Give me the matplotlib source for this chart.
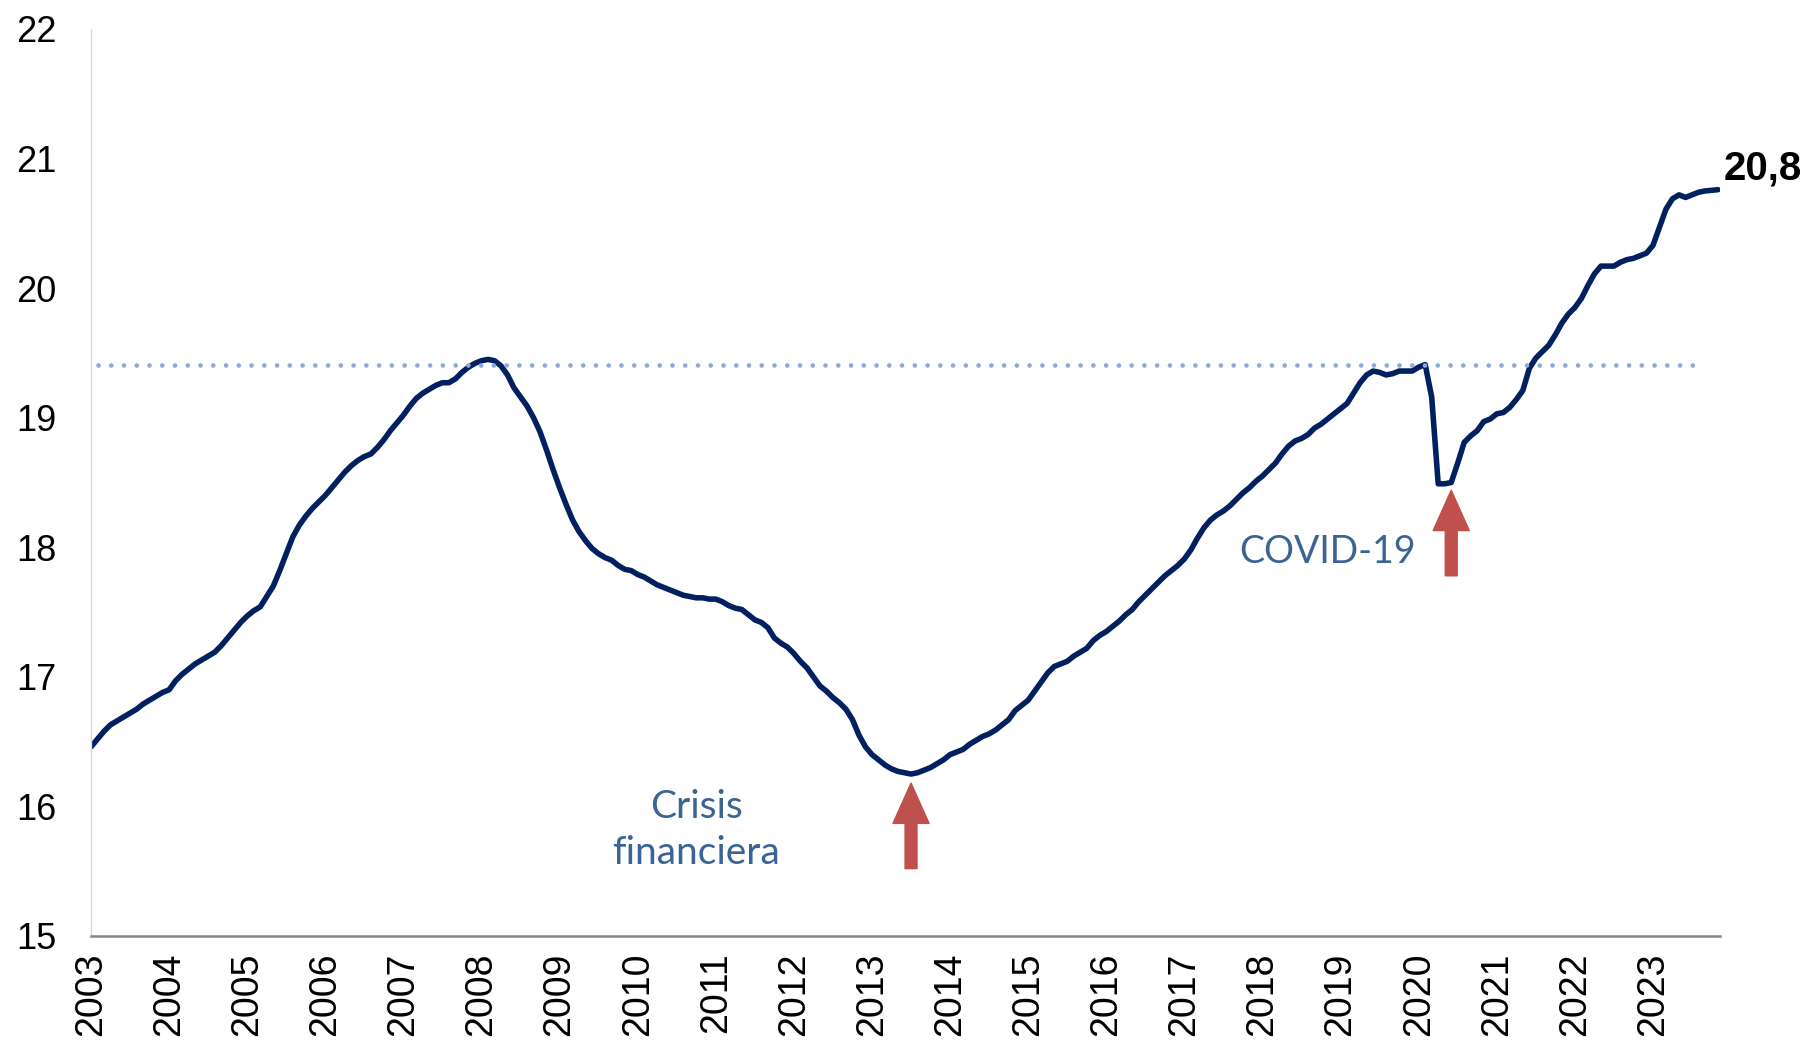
import matplotlib
matplotlib.use("Agg")
import matplotlib.pyplot as plt
import numpy as np

# afiliados (millones), serie mensual ene-2003 .. nov-2023
afiliados = [
    16.46, 16.52, 16.58, 16.63, 16.66, 16.69, 16.72, 16.75, 16.79, 16.82, 16.85, 16.88,  # 2003
    16.90, 16.97, 17.02, 17.06, 17.10, 17.13, 17.16, 17.19, 17.24, 17.30, 17.36, 17.42,  # 2004
    17.47, 17.51, 17.54, 17.62, 17.70, 17.82, 17.95, 18.08, 18.17, 18.24, 18.30, 18.35,  # 2005
    18.40, 18.46, 18.52, 18.58, 18.63, 18.67, 18.70, 18.72, 18.77, 18.83, 18.90, 18.96,  # 2006
    19.02, 19.09, 19.15, 19.19, 19.22, 19.25, 19.27, 19.27, 19.30, 19.35, 19.39, 19.42,  # 2007
    19.44, 19.45, 19.44, 19.40, 19.33, 19.23, 19.16, 19.09, 19.00, 18.89, 18.75, 18.60,  # 2008
    18.46, 18.33, 18.21, 18.12, 18.05, 17.99, 17.95, 17.92, 17.90, 17.86, 17.83, 17.82,  # 2009
    17.79, 17.77, 17.74, 17.71, 17.69, 17.67, 17.65, 17.63, 17.62, 17.61, 17.61, 17.60,  # 2010
    17.60, 17.58, 17.55, 17.53, 17.52, 17.48, 17.44, 17.42, 17.38, 17.30, 17.26, 17.23,  # 2011
    17.18, 17.12, 17.07, 17.00, 16.93, 16.89, 16.84, 16.80, 16.75, 16.67, 16.55, 16.46,  # 2012
    16.40, 16.36, 16.32, 16.29, 16.27, 16.26, 16.25, 16.26, 16.28, 16.30, 16.33, 16.36,  # 2013
    16.40, 16.42, 16.44, 16.48, 16.51, 16.54, 16.56, 16.59, 16.63, 16.67, 16.74, 16.78,  # 2014
    16.82, 16.89, 16.96, 17.03, 17.08, 17.10, 17.12, 17.16, 17.19, 17.22, 17.28, 17.32,  # 2015
    17.35, 17.39, 17.43, 17.48, 17.52, 17.58, 17.63, 17.68, 17.73, 17.78, 17.82, 17.86,  # 2016
    17.91, 17.98, 18.07, 18.15, 18.21, 18.25, 18.28, 18.32, 18.37, 18.42, 18.46, 18.51,  # 2017
    18.55, 18.60, 18.65, 18.72, 18.78, 18.82, 18.84, 18.87, 18.92, 18.95, 18.99, 19.03,  # 2018
    19.07, 19.11, 19.19, 19.27, 19.33, 19.36, 19.35, 19.33, 19.34, 19.36, 19.36, 19.36,  # 2019
    19.39, 19.41, 19.16, 18.49, 18.49, 18.50, 18.65, 18.81, 18.86, 18.90, 18.97, 18.99,  # 2020
    19.03, 19.04, 19.08, 19.14, 19.21, 19.38, 19.46, 19.51, 19.56, 19.64, 19.73, 19.80,  # 2021
    19.85, 19.92, 20.02, 20.11, 20.17, 20.17, 20.17, 20.20, 20.22, 20.23, 20.25, 20.27,  # 2022
    20.33, 20.47, 20.61, 20.69, 20.72, 20.70, 20.72, 20.74, 20.75, 20.755, 20.76,        # 2023
]
anios = [str(a) for a in range(2003, 2024)]
nivel_precrisis = 19.41
ultimo_txt = "20,8"

fig = plt.figure(figsize=(18.12, 10.46), dpi=100)
ax = fig.add_axes([91 / 1812, 1 - 936 / 1046, (1720 - 91) / 1812, (936 - 29) / 1046])

x = np.arange(len(afiliados))
ax.plot(x, afiliados, color="#002060", lw=4.0, solid_capstyle="round",
        solid_joinstyle="round", zorder=2)

# linea punteada del nivel previo
ax.plot([1, 248], [nivel_precrisis, nivel_precrisis], color="#8EA9DB", lw=3.4,
        linestyle=(0, (0.001, 2.7)), dash_capstyle="round", zorder=3)

ax.set_xlim(0, 250.3)
ax.set_ylim(15, 22)
ax.set_yticks(range(15, 23))
ax.set_yticklabels([str(v) for v in range(15, 23)])
ax.set_xticks(np.arange(len(anios)) * 12)
ax.set_xticklabels(anios, rotation=90)

for lab in ax.get_yticklabels():
    lab.set_fontfamily("Liberation Sans")
    lab.set_fontsize(26)
for lab in ax.get_xticklabels():
    lab.set_fontfamily("Liberation Sans")
    lab.set_fontsize(27)
ax.tick_params(axis="y", length=0, pad=25)
ax.tick_params(axis="x", length=0, pad=12)

for s in ["top", "right"]:
    ax.spines[s].set_visible(False)
ax.spines["left"].set_color("#D9D9D9")
ax.spines["left"].set_linewidth(1.0)
ax.spines["bottom"].set_color("#868686")
ax.spines["bottom"].set_linewidth(1.8)

# anotaciones
azul_txt = "#3A6496"
ax.text(93, 15.82, "Crisis\nfinanciera", ha="center", va="center", fontsize=28,
        color=azul_txt, family="Lato", linespacing=1.35)
ax.text(190, 17.96, "COVID-19", ha="center", va="center", fontsize=27,
        color=azul_txt, family="Lato")

flecha = dict(arrowstyle="simple,head_length=29,head_width=26,tail_width=8.6",
              mutation_scale=1, color="#C0504D", shrinkA=0, shrinkB=0)
ax.annotate("", xy=(126, 16.18), xytext=(126, 15.52), arrowprops=flecha)
ax.annotate("", xy=(209, 18.44), xytext=(209, 17.78), arrowprops=flecha)

ax.annotate(ultimo_txt, xy=(x[-1], afiliados[-1]), xytext=(4, 15.5),
            textcoords="offset points", ha="left", va="center",
            fontsize=29, fontweight="bold", family="Liberation Sans",
            annotation_clip=False)

fig.savefig("out.png", dpi=100)
